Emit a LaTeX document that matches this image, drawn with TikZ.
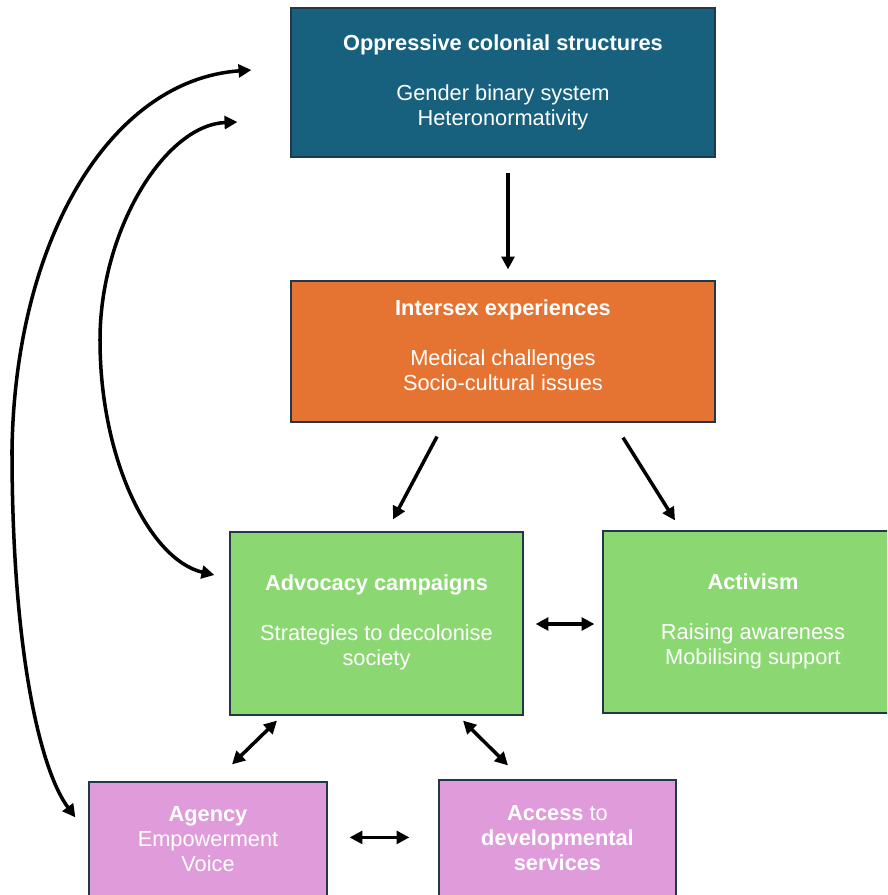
\documentclass[tikz,border=0pt]{standalone}
\usepackage{fontspec}
\setmainfont{Liberation Sans}
\usepackage{tikz}
\usetikzlibrary{arrows.meta,calc}

\definecolor{colonialblue}{HTML}{17607E}
\definecolor{intersexorange}{HTML}{E57332}
\definecolor{actiongreen}{HTML}{8BD872}
\definecolor{agencypink}{HTML}{E09BDA}
\definecolor{boxline}{HTML}{22384A}

\begin{document}
\begin{tikzpicture}[x=0.03cm, y=-0.03cm,
    box/.style={draw=boxline, line width=1pt, inner sep=0pt, align=center, text=white,
      font=\fontsize{18.6}{21.3}\selectfont},
    arr/.style={line width=3pt, -{Triangle[length=11pt,width=11pt]}},
    darr/.style={line width=3pt, {Triangle[length=11pt,width=11pt]}-{Triangle[length=11pt,width=11pt]}}]
      \useasboundingbox (0,0) rectangle (887,895);
      \clip (0,0) rectangle (887,895);

      % Top nodes
      \node[box, fill=colonialblue, minimum width=12.72cm, minimum height=4.47cm] (colonial) at (503,82.5)
        {\textbf{Oppressive colonial structures}\\[21.3pt]Gender binary system\\Heteronormativity};
      \node[box, fill=intersexorange, minimum width=12.72cm, minimum height=4.23cm] (intersex) at (503,351.5)
        {\textbf{Intersex experiences}\\[21.3pt]Medical challenges\\Socio-cultural issues\\[-11pt]};

      % Action nodes
      \node[box, fill=actiongreen, minimum width=8.79cm, minimum height=5.49cm] (advocacy) at (376.5,623.5)
        {\textbf{Advocacy campaigns}\\[21.3pt]Strategies to decolonise\\society\\[-16pt]};
      \node[box, fill=actiongreen, minimum width=9cm, minimum height=5.46cm] (activism) at (753,622)
        {\textbf{Activism}\\[21.3pt]Raising awareness\\Mobilising support\\[-16pt]};

      % Outcome nodes
      \node[box, fill=agencypink, minimum width=7.14cm, minimum height=3.42cm] (agency) at (208,839)
        {\textbf{Agency}\\Empowerment\\Voice};
      \node[box, fill=agencypink, minimum width=7.11cm, minimum height=3.48cm] (access) at (557.5,838)
        {\textbf{Access} to\\\textbf{developmental}\\\textbf{services}};

      % Arrows
      \draw[arr] ($(colonial.south)+(5,15)$) -- ($(intersex.north)+(5,-11)$);
      \draw[arr] ($(intersex.south)+(-66,14)$) -- ($(advocacy.north)+(16.5,-12)$);
      \draw[arr] ($(intersex.south)+(120,15)$) -- ($(activism.north)+(-78,-10)$);
      \draw[darr] ($(advocacy.east)+(12,0.5)$) -- ($(activism.west)+(-8,2)$);
      \draw[darr] ($(advocacy.south)+(-99.5,5)$) -- ($(agency.north)+(24,-17)$);
      \draw[darr] ($(advocacy.south)+(86.5,5)$) -- ($(access.north)+(-49.5,-14)$);
      \draw[darr] ($(agency.north east)+(22,56)$) -- ($(access.north west)+(-29,58)$);

      % Feedback curves
      \draw[darr] ($(colonial.west)+(-39,-12.5)$) .. controls (110,80) and (15,240) .. (12,450)
        .. controls (12,650) and (40,770) .. ($(agency.north west)+(-13,36)$);
      \draw[darr] ($(colonial.west)+(-53,39.5)$) .. controls (165,125) and (100,230) .. (100,340)
        .. controls (100,460) and (150,560) .. ($(advocacy.west)+(-15,-48.5)$);
    \end{tikzpicture}
\end{document}
